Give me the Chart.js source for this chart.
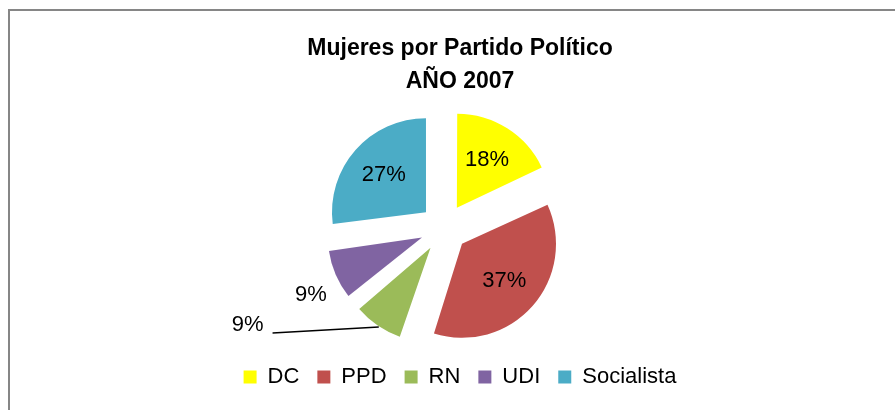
<!DOCTYPE html>
<html><head><meta charset="utf-8">
<script src="https://cdn.jsdelivr.net/npm/chart.js@4.4.0/dist/chart.umd.min.js"></script>
<style>
html,body{margin:0;padding:0;background:#fff;overflow:hidden;width:895px;height:410px;}
#frame{position:absolute;left:8px;top:9px;width:900px;height:420px;border-top:2px solid #868686;border-left:2px solid #868686;}
#c{position:absolute;left:0;top:0;}
</style></head><body>
<div id="frame"></div>
<canvas id="c" width="895" height="410"></canvas>
<script>
const titleLines = ['Mujeres por Partido Político', 'AÑO 2007'];
const categories = ['DC', 'PPD', 'RN', 'UDI', 'Socialista'];
const percentages = [18, 37, 9, 9, 27];
const sliceColors = ['#FFFF00', '#C0504D', '#9BBB59', '#8064A2', '#4BACC6'];

const FONT = '"Liberation Sans", Arial, sans-serif';
const PIE_RADIUS = 94;
const EXPLODE = 24;

// Keep every exploded slice at the same radius (Chart.js enlarges narrow offset slices)
const explodeFix = {
  id: 'explodeFix',
  afterDatasetUpdate(chart, args) {
    args.meta.data.forEach(arc => {
      const fix = 1 - Math.sin(Math.min(Math.PI, arc.circumference));
      arc.outerRadius = PIE_RADIUS - EXPLODE * fix;
    });
  }
};

const sliceLabels = {
  id: 'sliceLabels',
  afterDatasetsDraw(chart, args, opts) {
    const meta = chart.getDatasetMeta(0);
    const ds = chart.data.datasets[0].data;
    const total = ds.reduce((a, b) => a + b, 0);
    const ctx = chart.ctx;
    ctx.save();
    ctx.font = '22px ' + FONT;
    ctx.fillStyle = '#000';
    ctx.strokeStyle = '#000';
    ctx.textAlign = 'center';
    ctx.textBaseline = 'middle';
    meta.data.forEach((arc, i) => {
      const mid = (arc.startAngle + arc.endAngle) / 2;
      const vx = arc.x + Math.cos(mid) * EXPLODE;
      const vy = arc.y + Math.sin(mid) * EXPLODE;
      const text = Math.round(ds[i] / total * 100) + '%';
      const p = opts.placement[i];
      let lx, ly;
      if (p.mode === 'inside') {
        lx = vx + Math.cos(mid) * PIE_RADIUS * p.r;
        ly = vy + Math.sin(mid) * PIE_RADIUS * p.r;
      } else {
        const a = p.angle * Math.PI / 180 - Math.PI / 2;
        lx = arc.x + Math.cos(a) * PIE_RADIUS * p.r;
        ly = arc.y + Math.sin(a) * PIE_RADIUS * p.r;
        if (p.leader) {
          const w = ctx.measureText(text).width;
          ctx.lineWidth = 1.5;
          ctx.beginPath();
          ctx.moveTo(lx + w / 2 + 9, ly + 8);
          ctx.lineTo(vx + Math.cos(mid) * (PIE_RADIUS - 2), vy + Math.sin(mid) * (PIE_RADIUS - 2) + 3);
          ctx.stroke();
        }
      }
      ctx.fillText(text, lx, ly);
    });
    ctx.restore();
  }
};

new Chart(document.getElementById('c'), {
  type: 'pie',
  data: {
    labels: categories,
    datasets: [{
      data: percentages,
      backgroundColor: sliceColors,
      borderWidth: 0,
      offset: EXPLODE * 4,
      hoverOffset: 0,
      radius: PIE_RADIUS,
      clip: false
    }]
  },
  options: {
    responsive: false,
    animation: false,
    events: [],
    layout: { padding: { left: 25, right: 0, top: 0, bottom: 12 } },
    plugins: {
      title: {
        display: true, text: titleLines, color: '#000',
        font: { family: FONT, size: 23, weight: 'bold', lineHeight: '33px' },
        padding: { top: 32, bottom: 10 }
      },
      subtitle: {
        display: true, position: 'right', fullSize: false, text: ' ',
        font: { size: 10, lineHeight: 1.2 }, padding: { top: 10, bottom: 10 }
      },
      legend: {
        position: 'bottom',
        labels: { boxWidth: 13, boxHeight: 13, padding: 18, color: '#000', font: { family: FONT, size: 22 } }
      },
      tooltip: { enabled: false },
      sliceLabels: {
        placement: [
          { mode: 'inside', r: 0.6 },
          { mode: 'inside', r: 0.6 },
          { mode: 'free', angle: 243.7, r: 2.33, leader: true },
          { mode: 'free', angle: 243.3, r: 1.585 },
          { mode: 'inside', r: 0.6 }
        ]
      }
    }
  },
  plugins: [explodeFix, sliceLabels]
});
</script>
</body></html>
